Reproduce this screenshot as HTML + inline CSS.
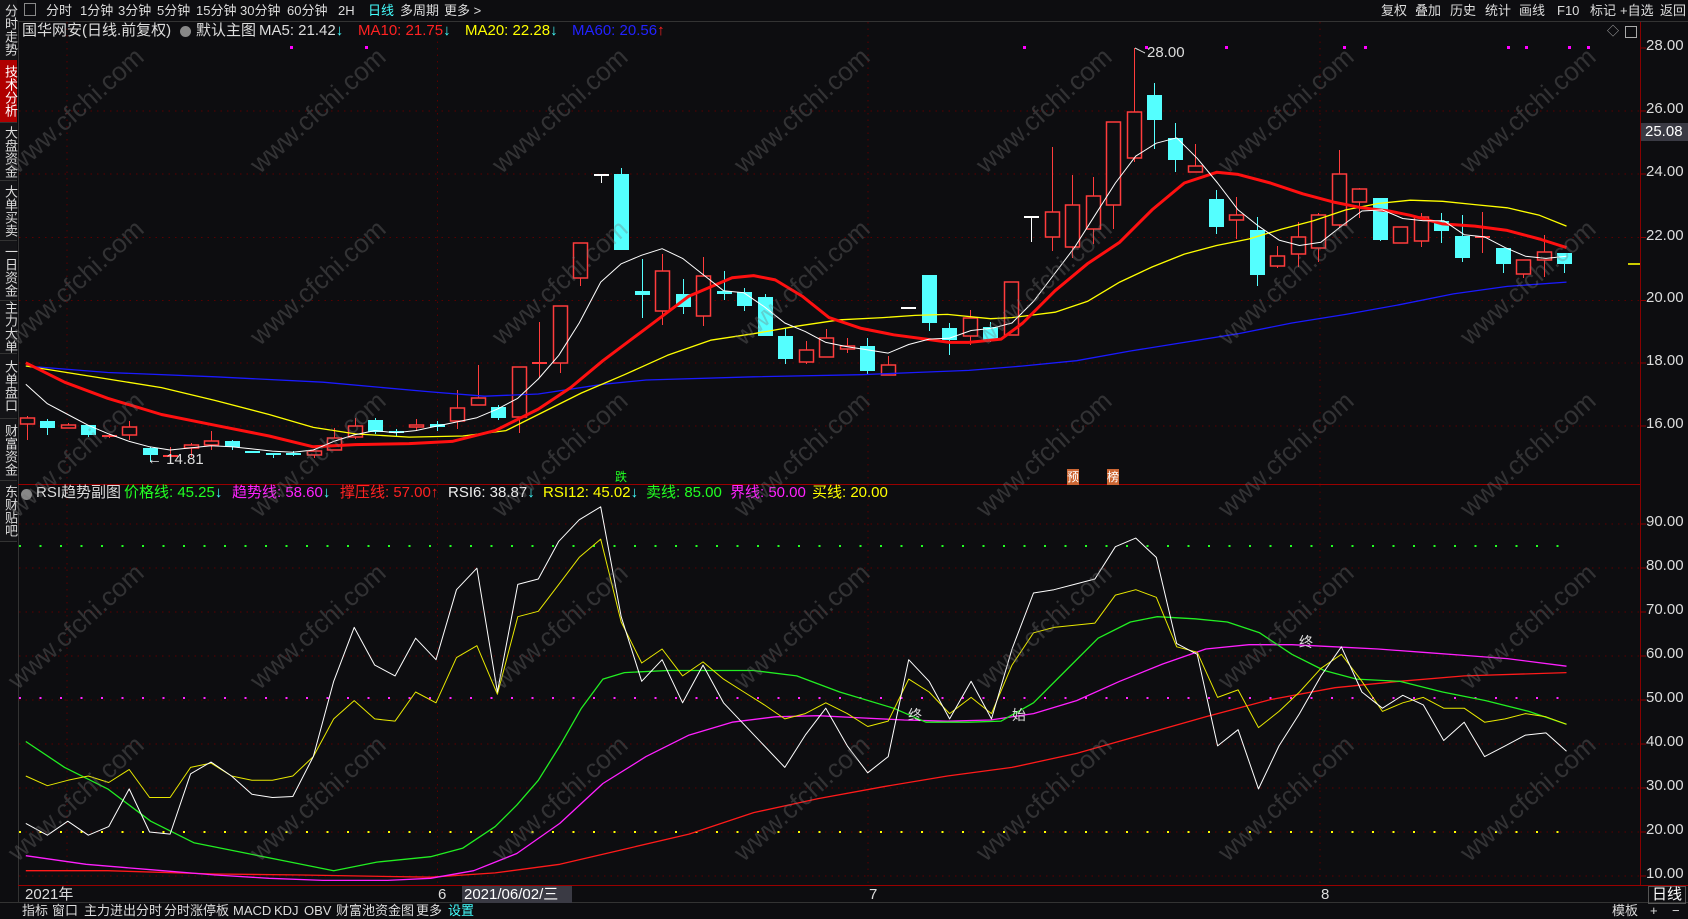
<!DOCTYPE html>
<html><head><meta charset="utf-8">
<style>
html,body{margin:0;padding:0;background:#0d0d10;}
#root{position:relative;width:1688px;height:919px;overflow:hidden;background:#0d0d10;font-family:"Liberation Sans","Noto Sans CJK SC",sans-serif;color:#ddd;}
.t{position:absolute;white-space:nowrap;font-size:14px;line-height:16px;}
.side{position:absolute;left:0;width:17px;background:#141417;border-bottom:1px solid #333;color:#ddd;font-size:13px;line-height:14px;text-align:center;writing-mode:vertical-rl;letter-spacing:0px;}
.wm{position:absolute;color:rgba(120,120,120,0.35);font-size:26px;transform:rotate(-42deg);white-space:nowrap;}
.ax{position:absolute;left:1646px;font-size:15px;color:#ddd;}
svg{position:absolute;left:0;top:0;}
</style></head><body><div id="root">
<svg id="g" width="1688" height="919"></svg>

<!-- top toolbar -->
<div class="t" style="left:24px;top:3px;width:10px;height:11px;border:1px solid #888;"></div>
<div class="t" style="left:46px;top:3px;font-size:13px;">分时</div>
<div class="t" style="left:80px;top:3px;font-size:13px;">1分钟</div>
<div class="t" style="left:118px;top:3px;font-size:13px;">3分钟</div>
<div class="t" style="left:157px;top:3px;font-size:13px;">5分钟</div>
<div class="t" style="left:196px;top:3px;font-size:13px;">15分钟</div>
<div class="t" style="left:240px;top:3px;font-size:13px;">30分钟</div>
<div class="t" style="left:287px;top:3px;font-size:13px;">60分钟</div>
<div class="t" style="left:338px;top:3px;font-size:13px;">2H</div>
<div class="t" style="left:368px;top:3px;font-size:13px;color:#4ff;">日线</div>
<div class="t" style="left:400px;top:3px;font-size:13px;">多周期</div>
<div class="t" style="left:444px;top:3px;font-size:13px;">更多 &gt;</div>
<div class="t" style="left:1381px;top:3px;font-size:13px;">复权</div>
<div class="t" style="left:1415px;top:3px;font-size:13px;">叠加</div>
<div class="t" style="left:1450px;top:3px;font-size:13px;">历史</div>
<div class="t" style="left:1485px;top:3px;font-size:13px;">统计</div>
<div class="t" style="left:1519px;top:3px;font-size:13px;">画线</div>
<div class="t" style="left:1557px;top:3px;font-size:13px;">F10</div>
<div class="t" style="left:1590px;top:3px;font-size:13px;">标记</div>
<div class="t" style="left:1620px;top:3px;font-size:13px;">+自选</div>
<div class="t" style="left:1660px;top:3px;font-size:13px;">返回</div>

<!-- sidebar -->
<div class="side" style="top:0;height:60px;">分时走势</div>
<div class="side" style="top:60px;height:62px;background:#b00000;color:#fff;">技术分析</div>
<div class="side" style="top:123px;height:57px;">大盘资金</div>
<div class="side" style="top:181px;height:59px;">大单买卖</div>
<div class="side" style="top:241px;height:59px;">一日资金</div>
<div class="side" style="top:301px;height:52px;">主力大单</div>
<div class="side" style="top:354px;height:64px;">大单盘口</div>
<div class="side" style="top:419px;height:61px;">财富资金</div>
<div class="side" style="top:481px;height:60px;">东财贴吧</div>

<!-- title -->
<div class="t" style="left:22px;top:23px;font-size:15px;">国华网安(日线.前复权)</div>
<div class="t" style="left:180px;top:26px;width:11px;height:11px;border-radius:6px;background:#888;"></div>
<div class="t" style="left:196px;top:23px;font-size:15px;">默认主图</div>
<div class="t" style="left:259px;top:23px;font-size:15px;color:#ddd;">MA5: 21.42<span style="color:#4ff">↓</span></div>
<div class="t" style="left:358px;top:23px;font-size:15px;color:#f22;">MA10: 21.75<span style="color:#4ff">↓</span></div>
<div class="t" style="left:465px;top:23px;font-size:15px;color:#ff0;">MA20: 22.28<span style="color:#4ff">↓</span></div>
<div class="t" style="left:572px;top:23px;font-size:15px;color:#22f;">MA60: 20.56<span style="color:#f22">↑</span></div>
<div class="t" style="left:1607px;top:23px;font-size:12px;color:#aaa;">◇</div>
<div class="t" style="left:1625px;top:26px;width:10px;height:10px;border:1px solid #aaa;"></div>

<!-- annotations -->
<div class="t" style="left:1147px;top:45px;font-size:15px;">28.00</div>
<div class="t" style="left:147px;top:452px;font-size:15px;">← 14.81</div>
<div class="t" style="left:615px;top:469px;font-size:12px;color:#2f2;">跌</div>
<div class="t" style="left:1067px;top:469px;font-size:12px;color:#fff;background:#c63;">预</div>
<div class="t" style="left:1107px;top:469px;font-size:12px;color:#fff;background:#c63;">榜</div>

<!-- sub header -->
<div class="t" style="left:21px;top:489px;width:11px;height:11px;border-radius:6px;background:#888;"></div>
<div class="t" style="left:36px;top:485px;font-size:15px;">RSI趋势副图</div>
<div class="t" style="left:124px;top:485px;font-size:15px;color:#2f2;">价格线: 45.25<span style="color:#4ff">↓</span></div>
<div class="t" style="left:232px;top:485px;font-size:15px;color:#f2f;">趋势线: 58.60<span style="color:#4ff">↓</span></div>
<div class="t" style="left:340px;top:485px;font-size:15px;color:#f22;">撑压线: 57.00<span style="color:#f22">↑</span></div>
<div class="t" style="left:448px;top:485px;font-size:15px;color:#eee;">RSI6: 38.87<span style="color:#4ff">↓</span></div>
<div class="t" style="left:543px;top:485px;font-size:15px;color:#ff0;">RSI12: 45.02<span style="color:#4ff">↓</span></div>
<div class="t" style="left:646px;top:485px;font-size:15px;color:#2f2;">卖线: 85.00</div>
<div class="t" style="left:730px;top:485px;font-size:15px;color:#f2f;">界线: 50.00</div>
<div class="t" style="left:812px;top:485px;font-size:15px;color:#ff0;">买线: 20.00</div>
<div class="t" style="left:908px;top:707px;font-size:14px;">终</div>
<div class="t" style="left:1012px;top:707px;font-size:14px;">始</div>
<div class="t" style="left:1299px;top:634px;font-size:14px;">终</div>

<!-- price axis -->
<div class="ax" style="top:37px;">28.00</div>
<div class="ax" style="top:100px;">26.00</div>
<div class="t" style="left:1641px;top:123px;width:47px;height:18px;background:#3a3a44;font-size:15px;line-height:18px;color:#fff;padding-left:4px;box-sizing:border-box;">25.08</div>
<div class="ax" style="top:163px;">24.00</div>
<div class="ax" style="top:227px;">22.00</div>
<div class="ax" style="top:289px;">20.00</div>
<div class="ax" style="top:352px;">18.00</div>
<div class="ax" style="top:415px;">16.00</div>
<div class="ax" style="top:513px;">90.00</div>
<div class="ax" style="top:557px;">80.00</div>
<div class="ax" style="top:601px;">70.00</div>
<div class="ax" style="top:645px;">60.00</div>
<div class="ax" style="top:689px;">50.00</div>
<div class="ax" style="top:733px;">40.00</div>
<div class="ax" style="top:777px;">30.00</div>
<div class="ax" style="top:821px;">20.00</div>
<div class="ax" style="top:865px;">10.00</div>

<!-- date row -->
<div class="t" style="left:25px;top:887px;font-size:15px;">2021年</div>
<div class="t" style="left:438px;top:887px;font-size:15px;">6</div>
<div class="t" style="left:462px;top:886px;width:108px;height:17px;background:#3a3a44;font-size:15px;line-height:17px;color:#fff;padding-left:2px;">2021/06/02/三</div>
<div class="t" style="left:869px;top:887px;font-size:15px;">7</div>
<div class="t" style="left:1321px;top:887px;font-size:15px;">8</div>
<div class="t" style="left:1648px;top:886px;font-size:15px;color:#fff;border:1px solid #555;padding:0 3px;">日线</div>

<!-- bottom toolbar -->
<div class="t" style="left:22px;top:903px;font-size:13px;">指标</div>
<div class="t" style="left:52px;top:903px;font-size:13px;">窗口</div>
<div class="t" style="left:84px;top:903px;font-size:13px;">主力进出分时</div>
<div class="t" style="left:164px;top:903px;font-size:13px;">分时涨停板</div>
<div class="t" style="left:233px;top:903px;font-size:13px;">MACD</div>
<div class="t" style="left:274px;top:903px;font-size:13px;">KDJ</div>
<div class="t" style="left:304px;top:903px;font-size:13px;">OBV</div>
<div class="t" style="left:336px;top:903px;font-size:13px;">财富池资金图</div>
<div class="t" style="left:416px;top:903px;font-size:13px;">更多</div>
<div class="t" style="left:448px;top:903px;font-size:13px;color:#4ff;">设置</div>
<div class="t" style="left:1612px;top:903px;font-size:13px;">模板</div>
<div class="t" style="left:1650px;top:903px;font-size:13px;">+</div>
<div class="t" style="left:1672px;top:903px;font-size:13px;">−</div>

<!-- watermarks -->
<div class="wm" style="left:-10px;top:95px;">www.cfchi.com</div>
<div class="wm" style="left:232px;top:95px;">www.cfchi.com</div>
<div class="wm" style="left:474px;top:95px;">www.cfchi.com</div>
<div class="wm" style="left:716px;top:95px;">www.cfchi.com</div>
<div class="wm" style="left:958px;top:95px;">www.cfchi.com</div>
<div class="wm" style="left:1200px;top:95px;">www.cfchi.com</div>
<div class="wm" style="left:1442px;top:95px;">www.cfchi.com</div>
<div class="wm" style="left:-10px;top:267px;">www.cfchi.com</div>
<div class="wm" style="left:232px;top:267px;">www.cfchi.com</div>
<div class="wm" style="left:474px;top:267px;">www.cfchi.com</div>
<div class="wm" style="left:716px;top:267px;">www.cfchi.com</div>
<div class="wm" style="left:958px;top:267px;">www.cfchi.com</div>
<div class="wm" style="left:1200px;top:267px;">www.cfchi.com</div>
<div class="wm" style="left:1442px;top:267px;">www.cfchi.com</div>
<div class="wm" style="left:-10px;top:439px;">www.cfchi.com</div>
<div class="wm" style="left:232px;top:439px;">www.cfchi.com</div>
<div class="wm" style="left:474px;top:439px;">www.cfchi.com</div>
<div class="wm" style="left:716px;top:439px;">www.cfchi.com</div>
<div class="wm" style="left:958px;top:439px;">www.cfchi.com</div>
<div class="wm" style="left:1200px;top:439px;">www.cfchi.com</div>
<div class="wm" style="left:1442px;top:439px;">www.cfchi.com</div>
<div class="wm" style="left:-10px;top:611px;">www.cfchi.com</div>
<div class="wm" style="left:232px;top:611px;">www.cfchi.com</div>
<div class="wm" style="left:474px;top:611px;">www.cfchi.com</div>
<div class="wm" style="left:716px;top:611px;">www.cfchi.com</div>
<div class="wm" style="left:958px;top:611px;">www.cfchi.com</div>
<div class="wm" style="left:1200px;top:611px;">www.cfchi.com</div>
<div class="wm" style="left:1442px;top:611px;">www.cfchi.com</div>
<div class="wm" style="left:-10px;top:783px;">www.cfchi.com</div>
<div class="wm" style="left:232px;top:783px;">www.cfchi.com</div>
<div class="wm" style="left:474px;top:783px;">www.cfchi.com</div>
<div class="wm" style="left:716px;top:783px;">www.cfchi.com</div>
<div class="wm" style="left:958px;top:783px;">www.cfchi.com</div>
<div class="wm" style="left:1200px;top:783px;">www.cfchi.com</div>
<div class="wm" style="left:1442px;top:783px;">www.cfchi.com</div>

<script>
(function(){
var s='';var K=1.0766;
function L(x1,y1,x2,y2,c,w,d){s+='<line x1="'+x1+'" y1="'+y1+'" x2="'+x2+'" y2="'+y2+'" stroke="'+c+'" stroke-width="'+(w||1)+'"'+(d?' stroke-dasharray="'+d+'"':'')+'/>';}
// frame
L(0,21.5,1688,21.5,'#333',1);
L(18.5,22,18.5,902,'#333',1);
L(1640.5,22,1640.5,886,'#800',1);
L(18,484.5,1640,484.5,'#900',1);
L(18,885.5,1688,885.5,'#900',1);
L(0,902.5,1688,902.5,'#333',1);
// grids main
[111,174,237.5,300.5,363,426].forEach(function(y){L(19,y,1640,y,'#5a0000',1,'1.5,5');});
[67,437.5,868,1320].forEach(function(x){L(x,22,x,484,'#5a0000',1,'1.5,5');L(x,485,x,885,'#5a0000',1,'1.5,5');});
// sub grids
for(var v=90;v>=10;v-=10){var y=524+(90-v)*4.4;L(1640,y,1646,y,'#800',1);L(19,y,1640,y,'#5a0000',1,'1.5,5');}
[48,111,174,237.5,300.5,363,426].forEach(function(y){L(1640,y,1646,y,'#800',1);});
L(19,546,1566,546,'#2f2',2,'2,18.5');
L(19,698,1566,698,'#f2f',2,'2,18.5');
L(19,832,1566,832,'#ff0',2,'2,18.5');
L(1628,264,1640,264,'#cc0',2);
// magenta dots top
[290,365,1023,1145,1225,1343,1364,1507,1525,1568,1587].forEach(function(x){s+='<rect x="'+x+'" y="46" width="3" height="3" fill="#f0f"/>';});
// candles
var C=[['r',418,424,416,440],['c',421,428,419,435],['r',425,428,423,428],['c',425,435,425,437],['r',436,436,434,438],['r',427,435,421,440],['c',448,455,447,462],['r',456,456,447,462],['r',445,448,443,457],['r',441,445,431,450],['c',441,447,440,450],['c',451,453,451,453],['c',453,455,453,458],['c',453,455,451,456],['r',451,455,451,458],['r',438,450,428,450],['r',426,437,418,439],['c',420,432,418,434],['c',431,432,429,436],['r',425,427,419,431],['c',424,427,421,431],['r',408,421,390,429],['r',398,405,365,405],['c',407,418,405,420],['r',367,417,367,433],['r',363,364,322,378],['r',306,363,306,373],['r',243,278,243,286],['w',175,175,175,183],['c',174,250,168,250],['c',291,295,259,318],['r',271,311,254,325],['c',294,307,279,314],['r',276,316,257,326],['c',291,294,271,300],['c',292,306,288,311],['c',297,336,294,336],['c',336,359,328,364],['r',350,362,341,364],['r',338,357,329,357],['r',346,349,338,353],['c',346,371,338,375],['r',365,375,356,375],['w',308,308,308,308],['c',275,323,275,331],['c',328,340,323,355],['r',318,336,310,345],['c',327,340,322,342],['r',282,335,282,335],['w',217,217,217,242],['r',212,237,147,251],['r',205,247,175,258],['r',196,229,177,244],['r',122,205,122,229],['r',112,158,48,162],['c',95,120,83,149],['c',138,160,123,172],['r',166,172,144,172],['c',199,227,190,234],['r',215,220,197,239],['c',230,275,217,286],['r',256,266,246,268],['r',237,254,222,267],['r',215,248,213,262],['r',174,225,150,227],['r',189,202,188,218],['c',198,240,198,241],['r',227,243,227,243],['r',217,241,213,247],['c',221,231,213,243],['c',236,258,215,262],['r',237,237,212,253],['c',248,264,248,273],['r',260,274,260,278],['r',252,260,235,277],['c',253,264,253,273]];
C.forEach(function(d,i){var x=Math.round(26.7+20.5*i)+0.5;var col=d[0]=='r'?'#ff3c3c':(d[0]=='c'?'#54ffff':'#ffffff');
L(x,d[3],x,d[4],col,1);
var h=d[2]-d[1];
if(d[0]=='c'){s+='<rect x="'+(x-7.5)+'" y="'+d[1]+'" width="15" height="'+Math.max(h,2)+'" fill="'+col+'"/>';}
else if(h<2){L(x-7.5,d[1],x+7.5,d[1],col,2);}
else{s+='<rect x="'+(x-7)+'" y="'+d[1]+'" width="14" height="'+h+'" fill="#0d0d10" stroke="'+col+'" stroke-width="1.5"/>';}
});
function P(pts,col,w){var a=pts.map(function(p){return (p[0]*K).toFixed(1)+','+(p[1]*K).toFixed(1);}).join(' ');s+='<polyline points="'+a+'" fill="none" stroke="'+col+'" stroke-width="'+w+'" stroke-linejoin="round"/>';}
P([[24,340],[100,346],[200,350],[300,355],[400,364],[450,368],[500,366],[560,357],[600,353],[700,350],[800,348],[850,346],[900,344],[950,340],[1000,335],[1050,326],[1100,318],[1150,310],[1200,300],[1250,292],[1300,283],[1350,273],[1400,266],[1455,262]],'#1a1aff',1.3);
P([[24,340],[100,352],[150,360],[200,372],[250,385],[291,397],[330,403],[380,406],[430,405],[470,400],[500,385],[540,365],[580,348],[620,330],[660,316],[700,310],[740,303],[780,297],[820,295],[850,293],[880,292],[920,296],[940,295],[980,290],[1010,280],[1040,262],[1070,248],[1100,236],[1130,228],[1160,222],[1190,213],[1220,205],[1250,195],[1280,189],[1310,186],[1340,187],[1370,190],[1400,193],[1430,200],[1455,210]],'#ffff00',1.3);
P([[24,337],[60,355],[100,370],[150,385],[200,395],[250,405],[291,415],[330,413],[380,412],[420,410],[460,400],[500,380],[530,360],[560,335],[600,305],[640,275],[680,258],[700,256],[720,260],[745,275],[770,295],[800,305],[830,311],[860,315],[882,318],[900,318],[930,315],[950,300],[980,270],[1010,245],[1040,225],[1070,195],[1100,170],[1130,160],[1150,162],[1180,170],[1210,180],[1240,188],[1265,193],[1290,196],[1310,200],[1340,208],[1370,210],[1400,214],[1430,222],[1455,230]],'#ff1010',3);
P([[24,357],[44,375],[63,385],[82,395],[101,403],[120,410],[139,415],[158,418],[177,416],[196,414],[215,415],[234,417],[253,419],[272,420],[291,418],[310,410],[329,404],[348,400],[367,402],[386,400],[405,396],[424,392],[443,388],[462,380],[481,370],[500,352],[519,330],[538,300],[558,262],[577,245],[596,237],[615,231],[634,240],[653,255],[672,270],[691,272],[710,285],[729,300],[748,308],[767,318],[787,322],[806,325],[825,328],[844,320],[863,315],[882,314],[902,307],[921,305],[940,300],[960,280],[979,255],[998,230],[1017,200],[1036,170],[1055,145],[1074,133],[1093,128],[1112,147],[1131,170],[1150,195],[1169,210],[1188,223],[1207,228],[1227,225],[1246,210],[1265,196],[1284,195],[1303,203],[1322,205],[1341,205],[1360,218],[1379,220],[1398,230],[1417,238],[1436,240],[1455,238]],'#ffffff',1);
// RSI panel (perceived y offset adj)
var O=3;function Q(pts,col,w){P(pts.map(function(p){return [p[0],p[1]+O/K];}),col,w);}
Q([[24,806],[100,806],[200,809],[280,810],[400,812],[460,808],[520,800],[580,786],[640,772],[700,752],[760,739],[820,728],[880,718],[940,710],[1000,697],[1060,680],[1120,663],[1180,647],[1240,636],[1300,630],[1360,625],[1455,622]],'#ff1a1a',1.3);
Q([[24,792],[80,800],[140,805],[200,810],[250,813],[300,815],[360,815],[400,813],[440,806],[480,790],[520,762],[560,725],[600,700],[640,680],[680,668],[720,663],[760,662],[800,664],[840,666],[880,667],[920,666],[960,660],[1000,648],[1040,630],[1080,614],[1120,600],[1160,596],[1200,596],[1240,598],[1280,600],[1320,603],[1360,606],[1400,609],[1455,616]],'#ff20ff',1.3);
Q([[24,686],[60,710],[100,730],[140,760],[180,780],[230,790],[270,798],[310,806],[350,798],[400,793],[430,785],[460,765],[480,745],[500,722],[520,690],[540,655],[560,628],[580,622],[620,620],[700,620],[740,625],[780,640],[830,655],[860,668],[900,668],[930,667],[960,650],[990,620],[1020,590],[1050,575],[1075,570],[1110,572],[1140,575],[1170,585],[1200,605],[1230,620],[1260,628],[1300,630],[1340,640],[1380,648],[1420,658],[1455,670]],'#22ee22',1.3);
Q([[24,718],[44,727],[63,722],[82,718],[101,724],[120,712],[139,738],[158,738],[177,710],[196,706],[215,718],[234,722],[253,722],[272,718],[291,700],[310,665],[329,648],[348,665],[367,667],[386,640],[405,650],[424,608],[443,597],[462,642],[481,570],[500,565],[519,540],[538,515],[558,498],[577,575],[596,613],[615,600],[634,625],[653,612],[672,628],[691,640],[710,652],[729,665],[748,660],[767,650],[787,660],[806,672],[825,667],[844,628],[863,640],[882,660],[902,645],[921,660],[940,615],[960,585],[979,580],[998,578],[1017,576],[1036,550],[1055,545],[1074,552],[1093,598],[1112,603],[1131,645],[1150,638],[1169,673],[1188,658],[1207,640],[1227,618],[1246,605],[1265,630],[1284,658],[1303,650],[1322,645],[1341,655],[1360,655],[1379,668],[1398,665],[1417,660],[1436,663],[1455,670]],'#e8e800',1);
Q([[24,762],[44,773],[63,760],[82,773],[101,765],[120,730],[139,770],[158,772],[177,716],[196,705],[215,718],[234,735],[253,738],[272,737],[291,700],[310,630],[329,580],[348,615],[367,625],[386,590],[405,610],[424,545],[443,525],[462,640],[481,540],[500,535],[519,500],[538,480],[558,468],[577,570],[596,630],[615,610],[634,650],[653,615],[672,650],[691,670],[710,690],[729,710],[748,680],[767,655],[787,690],[806,715],[825,700],[844,610],[863,630],[882,665],[902,630],[921,665],[940,600],[960,548],[979,545],[998,540],[1017,535],[1036,505],[1055,497],[1074,515],[1093,595],[1112,605],[1131,690],[1150,675],[1169,730],[1188,690],[1207,660],[1227,625],[1246,598],[1265,640],[1284,655],[1303,643],[1322,652],[1341,685],[1360,668],[1379,700],[1398,690],[1417,680],[1436,678],[1455,695]],'#ffffff',1);
// peak arrow
L(1135,48,1145,53,'#ddd',1);
document.getElementById('g').innerHTML=s;
})();
</script>
</div></body></html>
